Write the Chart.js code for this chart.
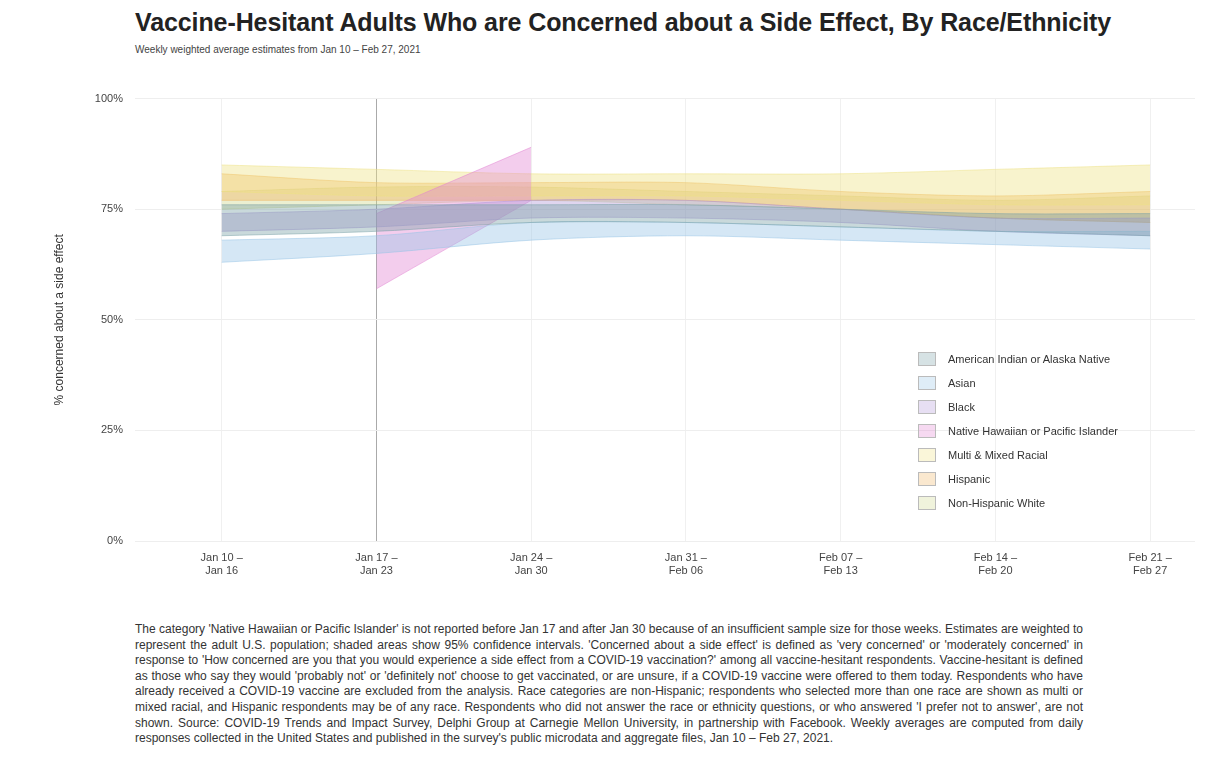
<!DOCTYPE html>
<html>
<head>
<meta charset="utf-8">
<script src="https://cdn.jsdelivr.net/npm/chart.js@4.4.0/dist/chart.umd.min.js"></script>
<style>
  body { margin: 0; background: #fff; font-family: "Liberation Sans", Arial, sans-serif; }
  #title { position: absolute; left: 135px; top: 8px; font-size: 25px; font-weight: bold; color: #222; white-space: nowrap; letter-spacing: -0.1px; }
  #subtitle { position: absolute; left: 135px; top: 44px; font-size: 10px; color: #444; }
  #wrap { position: absolute; left: 0; top: 80px; width: 1212px; height: 520px; }
  #legend { position: absolute; left: 918px; top: 347px; font-size: 11px; color: #333; }
  #legend div { height: 24px; line-height: 20px; display: flex; align-items: center; }
  #legend span.sw { display: inline-block; width: 18px; height: 14px; margin-right: 12px; border: 1px solid #bbb; box-sizing: border-box; }
  #note { position: absolute; left: 135px; top: 622px; width: 948px; font-size: 12px; line-height: 15.6px; color: #333; text-align: justify; }
</style>
</head>
<body>
<div id="title">Vaccine-Hesitant Adults Who are Concerned about a Side Effect, By Race/Ethnicity</div>
<div id="subtitle">Weekly weighted average estimates from Jan 10 – Feb 27, 2021</div>
<div id="wrap"><canvas id="chart"></canvas></div>
<div id="legend"></div>
<div id="note">The category 'Native Hawaiian or Pacific Islander' is not reported before Jan 17 and after Jan 30 because of an insufficient sample size for those weeks. Estimates are weighted to represent the adult U.S. population; shaded areas show 95% confidence intervals. 'Concerned about a side effect' is defined as 'very concerned' or 'moderately concerned' in response to 'How concerned are you that you would experience a side effect from a COVID-19 vaccination?' among all vaccine-hesitant respondents. Vaccine-hesitant is defined as those who say they would 'probably not' or 'definitely not' choose to get vaccinated, or are unsure, if a COVID-19 vaccine were offered to them today. Respondents who have already received a COVID-19 vaccine are excluded from the analysis. Race categories are non-Hispanic; respondents who selected more than one race are shown as multi or mixed racial, and Hispanic respondents may be of any race. Respondents who did not answer the race or ethnicity questions, or who answered 'I prefer not to answer', are not shown. Source: COVID-19 Trends and Impact Survey, Delphi Group at Carnegie Mellon University, in partnership with Facebook. Weekly averages are computed from daily responses collected in the United States and published in the survey's public microdata and aggregate files, Jan 10 – Feb 27, 2021.</div>
<script>
// week labels (two lines each)
const weeks = [
  ["Jan 10 –", "Jan 16"],
  ["Jan 17 –", "Jan 23"],
  ["Jan 24 –", "Jan 30"],
  ["Jan 31 –", "Feb 06"],
  ["Feb 07 –", "Feb 13"],
  ["Feb 14 –", "Feb 20"],
  ["Feb 21 –", "Feb 27"]
];

const groups = [
  "American Indian or Alaska Native",
  "Asian",
  "Black",
  "Native Hawaiian or Pacific Islander",
  "Multi & Mixed Racial",
  "Hispanic",
  "Non-Hispanic White"
];

const colors = [
  "120, 160, 165",
  "150, 195, 230",
  "175, 150, 215",
  "225, 130, 210",
  "238, 225, 130",
  "240, 180, 95",
  "205, 215, 140"
];

// confidence band bounds, % of vaccine-hesitant adults
const aianLow  = [69, 70, 72, 72, 71, 70, 69];
const aianHigh = [76, 76, 76, 76, 75, 74, 74];
const asianLow  = [63, 65, 68, 69, 68, 67, 66];
const asianHigh = [68, 69, 72, 72, 71, 70, 70];
const blackLow  = [70, 71, 73, 73, 72, 70, 69];
const blackHigh = [74, 75, 77, 77, 75, 73, 73];
const nhpiLow  = [null, 57, 77, null, null, null, null];
const nhpiHigh = [null, 74, 89, null, null, null, null];
const multiLow  = [79, 78, 78, 78, 77, 76, 76];
const multiHigh = [85, 84, 83, 83, 83, 84, 85];
const hispLow  = [77, 77, 77, 77, 75, 73, 72];
const hispHigh = [83, 81, 81, 81, 79, 78, 79];
const whiteLow  = [75, 76, 77, 76, 75, 73, 72];
const whiteHigh = [79, 80, 80, 79, 78, 77, 78];

const lows  = [aianLow, asianLow, blackLow, nhpiLow, multiLow, hispLow, whiteLow];
const highs = [aianHigh, asianHigh, blackHigh, nhpiHigh, multiHigh, hispHigh, whiteHigh];

const toPts = arr => arr.map((v, i) => ({ x: i, y: v }));

const datasets = [];
groups.forEach((g, i) => {
  datasets.push({
    label: g + " low",
    data: toPts(lows[i]),
    borderColor: "rgba(" + colors[i] + ", 0.5)",
    borderWidth: 1,
    pointRadius: 0,
    fill: false,
    tension: 0.3,
    spanGaps: false
  });
  datasets.push({
    label: g,
    data: toPts(highs[i]),
    borderColor: "rgba(" + colors[i] + ", 0.5)",
    backgroundColor: "rgba(" + colors[i] + ", 0.4)",
    borderWidth: 1,
    pointRadius: 0,
    fill: "-1",
    tension: 0.3,
    spanGaps: false
  });
});

const ctx = document.getElementById("chart").getContext("2d");
const chart = new Chart(ctx, {
  type: "line",
  data: { datasets: datasets },
  options: {
    responsive: true,
    maintainAspectRatio: false,
    animation: false,
    layout: { padding: { top: 10, right: 17, bottom: 9, left: 48 } },
    plugins: {
      legend: { display: false },
      tooltip: { enabled: false }
    },
    scales: {
      x: {
        type: "linear",
        min: -0.56,
        max: 6.29,
        grid: {
          color: c => (c.tick && c.tick.value === 1 ? "#aaa" : "#f0f0f0"),
          drawTicks: false
        },
        border: { display: false },
        ticks: {
          stepSize: 1,
          includeBounds: false,
          padding: 10,
          maxRotation: 0,
          color: "#444",
          font: { size: 11, family: "Liberation Sans" },
          callback: v => weeks[v] || ""
        },
        afterFit: s => { s.height = 50; }
      },
      y: {
        min: 0,
        max: 100,
        grid: { color: "#eeeeee", drawTicks: false },
        border: { display: false },
        ticks: {
          stepSize: 25,
          padding: 12,
          color: "#444",
          font: { size: 11, family: "Liberation Sans" },
          callback: v => v + "%"
        },
        title: {
          display: true,
          text: "% concerned about a side effect",
          color: "#333",
          font: { size: 12, family: "Liberation Sans" }
        },
        afterFit: s => { s.width = 87; }
      }
    }
  }
});

// legend
const leg = document.getElementById("legend");
groups.forEach((g, i) => {
  const row = document.createElement("div");
  const sw = document.createElement("span");
  sw.className = "sw";
  sw.style.background = "rgba(" + colors[i] + ", 0.3)";
  row.appendChild(sw);
  row.appendChild(document.createTextNode(g));
  leg.appendChild(row);
});
</script>
</body>
</html>
